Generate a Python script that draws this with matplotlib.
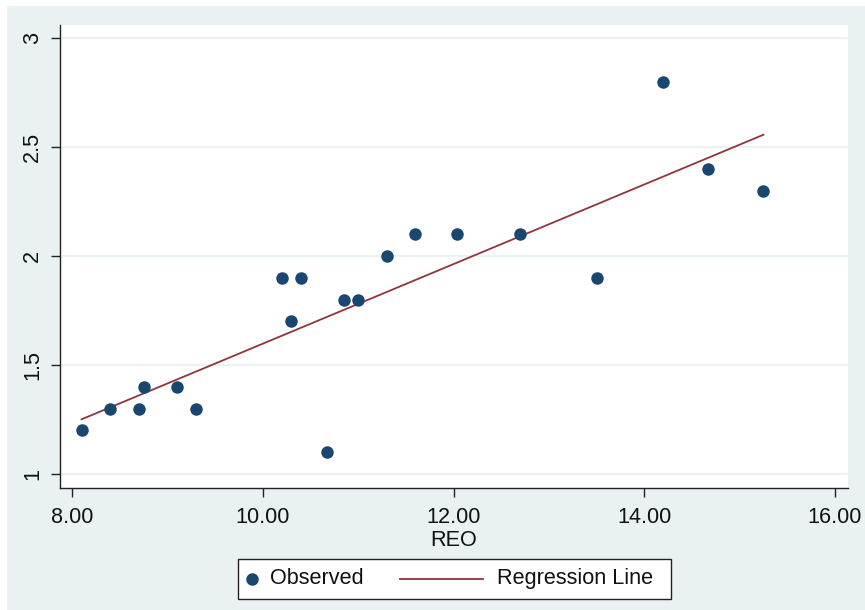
import numpy as np
import matplotlib
matplotlib.use("Agg")
import matplotlib.pyplot as plt
from matplotlib.patches import Rectangle
from matplotlib.lines import Line2D

plt.rcParams['font.family'] = ['Liberation Sans', 'DejaVu Sans']

# Data
reo = [8.10, 8.40, 8.70, 8.75, 9.10, 9.30, 10.20, 10.30, 10.40, 10.67,
       10.85, 11.00, 11.30, 11.60, 12.04, 12.70, 13.50, 14.20, 14.67, 15.25]
observed = [1.2, 1.3, 1.3, 1.4, 1.4, 1.3, 1.9, 1.7, 1.9, 1.1,
            1.8, 1.8, 2.0, 2.1, 2.1, 2.1, 1.9, 2.8, 2.4, 2.3]
xticks = [8, 10, 12, 14, 16]
xtick_labels = ["8.00", "10.00", "12.00", "14.00", "16.00"]
yticks = [1, 1.5, 2, 2.5, 3]
ytick_labels = ["1", "1.5", "2", "2.5", "3"]

FS = 15.6
W, H = 865, 610
fig = plt.figure(figsize=(W / 100, H / 100), dpi=100, facecolor='white')

bg = '#EAF1F3'
fig.patches.append(Rectangle((7 / W, 0), 1 - 7 / W, 1 - 6 / H, transform=fig.transFigure,
                             facecolor=bg, edgecolor='none', zorder=-10))

ax = fig.add_axes([60 / W, 1 - 488 / H, (848 - 60) / W, (488 - 25) / H])
ax.set_facecolor('white')
ax.set_xlim(7.874, 16.136)
ax.set_ylim(0.936, 3.06)

for v in yticks:
    ax.axhline(v, color='#E9F1F3', lw=1.3, zorder=0)

xarr = np.array(reo)
yarr = np.array(observed)
slope, intercept = np.polyfit(xarr, yarr, 1)
xl = np.array([xarr.min(), xarr.max()])
ax.plot(xl, intercept + slope * xl, color='#90353B', lw=1.3, zorder=2)
ax.plot(xarr, yarr, 'o', color='#1A476F', markersize=9, markeredgewidth=0, zorder=3)

for s in ['top', 'right']:
    ax.spines[s].set_visible(False)
for s in ['left', 'bottom']:
    ax.spines[s].set_color('#222222')
    ax.spines[s].set_linewidth(1.0)

ax.set_xticks(xticks)
ax.set_xticklabels(xtick_labels)
ax.set_yticks(yticks)
ax.set_yticklabels(ytick_labels, rotation=90, va='center')
ax.tick_params(axis='both', direction='out', length=6.5, width=1.0, color='#222222',
               labelsize=FS, labelcolor='#111111')
ax.tick_params(axis='x', pad=7)
ax.tick_params(axis='y', pad=5.5)
ax.set_xlabel('REO', fontsize=FS, color='#111111', labelpad=1.5)

# Legend (manual, Stata style)
ly = 1 - 578.5 / H
fig.patches.append(Rectangle((238 / W, 1 - 599 / H), (671 - 238) / W, (599 - 559) / H,
                             transform=fig.transFigure, facecolor='white',
                             edgecolor='#222222', lw=1.0, zorder=5))
fig.lines.append(Line2D([252 / W], [ly], transform=fig.transFigure, marker='o',
                        linestyle='none', color='#1A476F', markersize=9,
                        markeredgewidth=0, zorder=6))
fig.text(270 / W, ly, 'Observed', fontsize=FS, va='center', ha='left', color='#111111', zorder=6)
fig.lines.append(Line2D([400 / W, 483 / W], [ly, ly], transform=fig.transFigure,
                        color='#90353B', lw=1.3, zorder=6))
fig.text(497 / W, ly, 'Regression Line', fontsize=FS, va='center', ha='left',
         color='#111111', zorder=6)

fig.savefig('out.png', dpi=100, facecolor=fig.get_facecolor())
